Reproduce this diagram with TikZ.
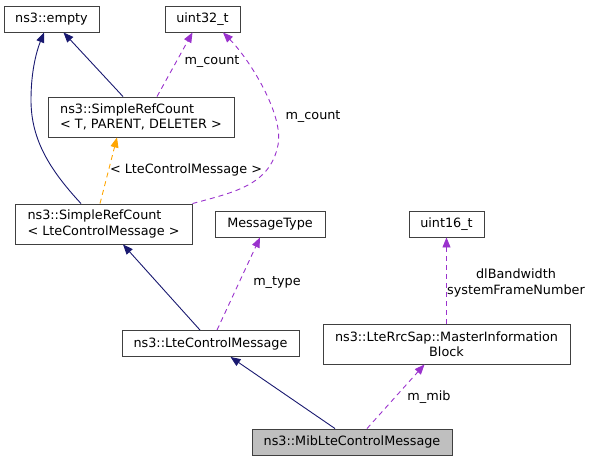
\documentclass[tikz,border=0pt]{standalone}
\usepackage{fontspec}
\setmainfont{DejaVu Sans}
\usetikzlibrary{arrows.meta}
\definecolor{navyedge}{HTML}{191970}
\definecolor{purpedge}{HTML}{9A32CD}
\definecolor{orangeedge}{HTML}{FFA500}
\definecolor{boxline}{HTML}{404040}
\definecolor{focusfill}{HTML}{BFBFBF}
\tikzset{
  box/.style={draw=boxline, line width=0.9pt, fill=white, inner sep=0pt, font=\fontsize{12.8}{15.5}\selectfont},
  inh/.style={draw=navyedge, line width=0.9pt, -{Triangle[length=10pt,width=8pt]}},
  usage/.style={draw=purpedge, line width=0.9pt, dash pattern=on 5pt off 4pt, -{Triangle[length=10pt,width=8pt,fill=purpedge]}},
  tmpl/.style={draw=orangeedge, line width=0.9pt, dash pattern=on 5pt off 4pt, -{Triangle[length=10pt,width=8pt,fill=orangeedge]}},
  lbl/.style={inner sep=0pt, font=\fontsize{12.8}{15.5}\selectfont, align=center}
}
\begin{document}
\begin{tikzpicture}[x=1pt,y=-1pt]
\useasboundingbox (0,0) rectangle (593,461);
% nodes
\node[box, minimum width=95pt, minimum height=26pt] (empty) at (51.5,19) {ns3::empty};
\node[box, minimum width=75pt, minimum height=26pt] (uint32) at (202.5,19) {uint32\_t};
\node[box, minimum width=186pt, minimum height=40pt, align=left] (srct) at (141,117) {ns3::SimpleRefCount\\< T, PARENT, DELETER >};
\node[box, minimum width=177pt, minimum height=40pt, align=left] (srcl) at (103.5,224) {ns3::SimpleRefCount\\< LteControlMessage >};
\node[box, minimum width=110pt, minimum height=26pt] (msg) at (270,224) {MessageType};
\node[box, minimum width=75pt, minimum height=26pt] (uint16) at (446.5,224) {uint16\_t};
\node[box, minimum width=177pt, minimum height=26pt] (lcm) at (210.5,343.5) {ns3::LteControlMessage};
\node[box, minimum width=247pt, minimum height=40pt, align=center] (mib) at (446.5,344) {ns3::LteRrcSap::MasterInformation\\Block};
\node[box, fill=focusfill, minimum width=200pt, minimum height=26pt] (mibmsg) at (352,442) {ns3::MibLteControlMessage};
% edges
\draw[inh] ([xshift=-22.5pt]srcl.north) .. controls (50,170) and (31,140) .. (31,100) .. controls (31,70) and (37,50) .. ([xshift=-7.5pt]empty.south);
\draw[inh] ([xshift=-18pt]srct.north) -- ([xshift=12pt]empty.south);
\draw[usage] ([xshift=16pt]srct.north) -- ([xshift=-10pt]uint32.south);
\node[lbl] (lcount1) at (212,62) {m\_count};
\draw[usage] (srcl.north east) .. controls (235,192) and (270,185) .. (278,145) .. controls (284,115) and (250,60) .. ([xshift=20.5pt]uint32.south);
\node[lbl] (lcount2) at (313,117) {m\_count};
\draw[tmpl] ([xshift=-3.5pt]srcl.north) -- ([xshift=-24pt]srct.south);
\node[lbl] (ltmpl) at (186,170) {< LteControlMessage >};
\draw[inh] ([xshift=-10.5pt]lcm.north) -- ([xshift=19.5pt]srcl.south);
\draw[usage] ([xshift=6.5pt]lcm.north) -- ([xshift=-10pt]msg.south);
\node[lbl] (ltype) at (277,283) {m\_type};
\draw[usage] (mib.north) -- (uint16.south);
\node[lbl] (lbw) at (516,283) {dlBandwidth\\systemFrameNumber};
\draw[inh] ([xshift=-17pt]mibmsg.north) -- ([xshift=20pt]lcm.south);
\draw[usage] ([xshift=15pt]mibmsg.north) -- ([xshift=-22pt]mib.south);
\node[lbl] (lmib) at (429,397) {m\_mib};
\end{tikzpicture}
\end{document}
